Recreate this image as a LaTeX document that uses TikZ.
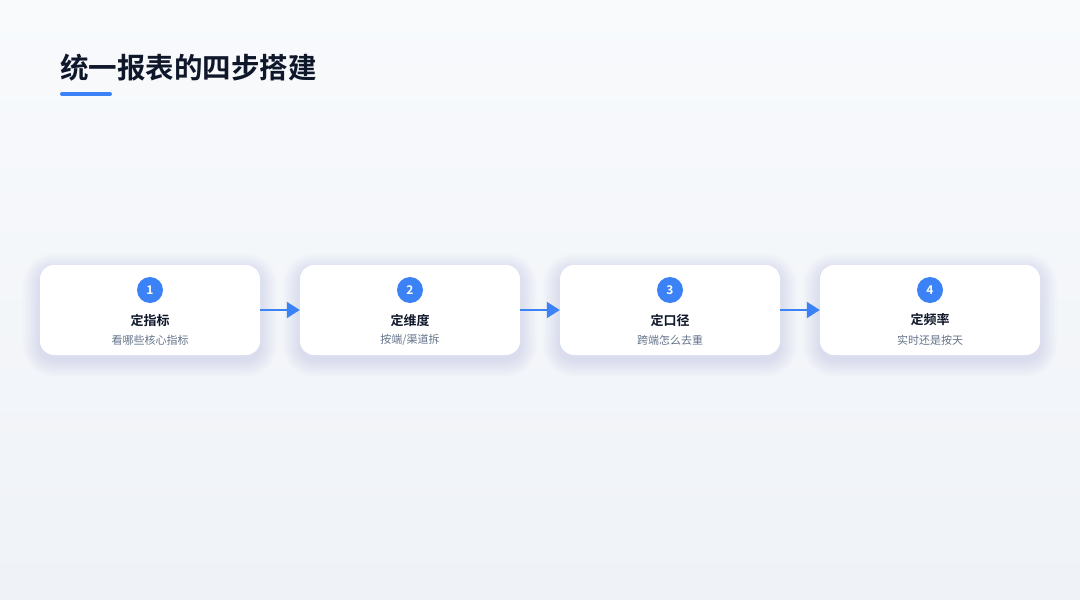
\documentclass[tikz,border=0pt]{standalone}
\usepackage{fontspec}
\setmainfont{Noto Sans CJK SC}
\newfontfamily\cjkbold{Noto Sans CJK SC Bold}
\usetikzlibrary{arrows.meta,positioning}
\definecolor{bgtop}{HTML}{F8FAFC}
\definecolor{bgbot}{HTML}{EFF2F7}
\definecolor{accent}{HTML}{3B82F6}
\definecolor{ink}{HTML}{0F172A}
\definecolor{muted}{HTML}{64748B}
\definecolor{shadowc}{HTML}{8C9BC8}
\tikzset{
  stepbox/.style={draw=none,fill=white,rounded corners=14pt,minimum width=220pt,minimum height=90pt},
  badge/.style={circle,fill=accent,minimum size=26pt,inner sep=0pt,text=white,font=\cjkbold\fontsize{12pt}{12pt}\selectfont},
  steptitle/.style={text=ink,font=\cjkbold\fontsize{13pt}{13pt}\selectfont,inner sep=0pt},
  stepsub/.style={text=muted,font=\fontsize{11pt}{11pt}\selectfont,inner sep=0pt},
  flow/.style={draw=accent,line width=2pt,-{Triangle[length=13pt,width=16pt]}},
  softshadow/.style={fill=shadowc,fill opacity=0.02,draw=none}
}
\begin{document}
\begin{tikzpicture}[x=1pt,y=-1pt]
\shade[top color=bgtop,bottom color=bgbot] (0,0) rectangle (1080,600);
\useasboundingbox (0,0) rectangle (1080,600);
\node[anchor=base west,inner sep=0pt,text=ink,font=\cjkbold\fontsize{28.5pt}{28.5pt}\selectfont] (title) at (60,78) {统一报表的四步搭建};
\draw[accent,line width=4pt,line cap=round] (62,94) -- (110,94);
\foreach \i/\x/\t/\s in {1/150/定指标/看哪些核心指标,2/410/定维度/{按端/渠道拆},3/670/定口径/跨端怎么去重,4/930/定频率/实时还是按天}{
  \foreach \k in {1,...,12}{
    \fill[softshadow,rounded corners={14pt+\k*1.4pt}] (\x-110-\k*1.4,265+5-\k*1.4) rectangle (\x+110+\k*1.4,355+5+\k*1.4);
  }
  \node[stepbox] (box\i) at (\x,310) {};
  \node[badge] (badge\i) at (\x,290) {\i};
  \node[steptitle] (t\i) at (\x,320) {\t};
  \node[stepsub] (s\i) at (\x,340) {\s};
}
\draw[flow] (box1.east) -- (box2.west);
\draw[flow] (box2.east) -- (box3.west);
\draw[flow] (box3.east) -- (box4.west);
\end{tikzpicture}
\end{document}
